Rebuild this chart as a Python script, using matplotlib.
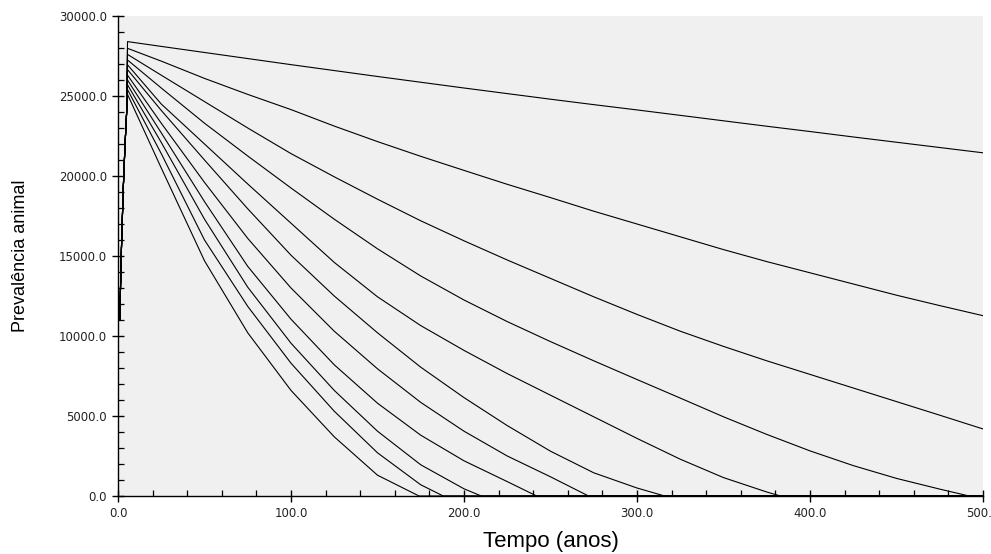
import numpy as np
import matplotlib
matplotlib.use('Agg')
import matplotlib.pyplot as plt
from matplotlib import font_manager
from matplotlib.ticker import MultipleLocator, FormatStrFormatter

# common start-up (rise of the infection before the curves split)
rise_t = [1, 2, 3, 4, 5]
rise_v = [11000, 15500, 19100, 21800, 24000]

# time grid (anos) where each curve was read
t_grid = [5.5, 25, 50, 75, 100, 125, 150, 175, 200, 225, 250,
          275, 300, 325, 350, 375, 400, 425, 450, 475, 500]

c1 = [28400, 28100, 27720, 27340, 26960, 26590, 26220, 25860, 25500, 25150, 24800,
      24460, 24130, 23790, 23450, 23110, 22780, 22440, 22110, 21780, 21450]
c2 = [27980, 27180, 26100, 25100, 24150, 23120, 22150, 21230, 20350, 19480, 18650,
      17800, 17000, 16200, 15400, 14650, 13950, 13250, 12550, 11900, 11270]
c3 = [27600, 26300, 24650, 23000, 21400, 19950, 18550, 17200, 15950, 14750, 13600,
      12450, 11350, 10300, 9350, 8450, 7600, 6750, 5900, 5050, 4190]
c4 = [27250, 25500, 23300, 21250, 19250, 17300, 15450, 13750, 12250, 10900, 9650,
      8450, 7280, 6120, 4950, 3850, 2820, 1900, 1100, 430, 0]
c5 = [26950, 24500, 22000, 19500, 17050, 14600, 12450, 10650, 9100, 7650, 6300,
      4950, 3600, 2300, 1150, 250, 0, 0, 0, 0, 0]
c6 = [26650, 24100, 21000, 17950, 15050, 12500, 10200, 8050, 6150, 4400, 2800,
      1450, 500, 0, 0, 0, 0, 0, 0, 0, 0]
c7 = [26300, 23300, 19600, 16100, 13000, 10300, 7950, 5850, 4050, 2500, 1200,
      0, 0, 0, 0, 0, 0, 0, 0, 0, 0]
c8 = [26000, 22700, 18400, 14350, 11050, 8200, 5800, 3800, 2200, 900, 0,
      0, 0, 0, 0, 0, 0, 0, 0, 0, 0]
c9 = [25700, 22100, 17300, 13050, 9550, 6600, 4050, 1950, 450, 0, 0,
      0, 0, 0, 0, 0, 0, 0, 0, 0, 0]
c10 = [25400, 21400, 16000, 11850, 8300, 5300, 2700, 700, 0, 0, 0,
       0, 0, 0, 0, 0, 0, 0, 0, 0, 0]
c11 = [25100, 20500, 14700, 10200, 6600, 3700, 1300, 0, 0, 0, 0,
       0, 0, 0, 0, 0, 0, 0, 0, 0, 0]

curves = [c1, c2, c3, c4, c5, c6, c7, c8, c9, c10, c11]
# time at which each curve reaches zero (None = still positive at 500)
extinction = [None, None, None, 492, 383, 316, 272, 242, 210, 188, 174]


def build(vals, ext):
    t = list(rise_t)
    v = list(rise_v)
    for ti, vi in zip(t_grid, vals):
        if ext is not None and ti >= ext:
            break
        t.append(ti)
        v.append(vi)
    if ext is not None:
        t += [ext, 500]
        v += [0, 0]
    return t, v


names = {f.name for f in font_manager.fontManager.ttflist}
label_font = 'Liberation Sans' if 'Liberation Sans' in names else 'DejaVu Sans'

fig = plt.figure(figsize=(9.91, 5.54), dpi=100)
ax = fig.add_axes([118 / 991, 58 / 554, 865 / 991, 480 / 554])
ax.set_facecolor('#f0f0f0')

for vals, ext in zip(curves, extinction):
    t, v = build(vals, ext)
    ax.plot(t, v, color='black', lw=0.8)

ax.set_xlim(0, 500)
ax.set_ylim(0, 30000)

ax.xaxis.set_major_locator(MultipleLocator(100))
ax.xaxis.set_minor_locator(MultipleLocator(20))
ax.yaxis.set_major_locator(MultipleLocator(5000))
ax.yaxis.set_minor_locator(MultipleLocator(1000))
ax.xaxis.set_major_formatter(FormatStrFormatter('%.1f'))
ax.yaxis.set_major_formatter(FormatStrFormatter('%.1f'))

for s in ['top', 'right']:
    ax.spines[s].set_visible(False)
for s in ['left', 'bottom']:
    ax.spines[s].set_linewidth(1.0)

ax.tick_params(which='major', direction='inout', length=8.5, width=1.0,
               labelsize=8.5, labelcolor='#222222', pad=3.5)
ax.tick_params(which='minor', direction='in', length=4, width=0.9)

ax.set_xlabel('Tempo (anos)', fontsize=16, family=label_font)
ax.xaxis.set_label_coords(0.5, -0.095)
ax.xaxis.label.set_va('center')
ax.set_ylabel('Prevalência animal', fontsize=13, family=label_font)
ax.yaxis.set_label_coords(-0.113, 0.5)
ax.yaxis.label.set_va('center')

fig.savefig('out.png', dpi=100, facecolor='white')
